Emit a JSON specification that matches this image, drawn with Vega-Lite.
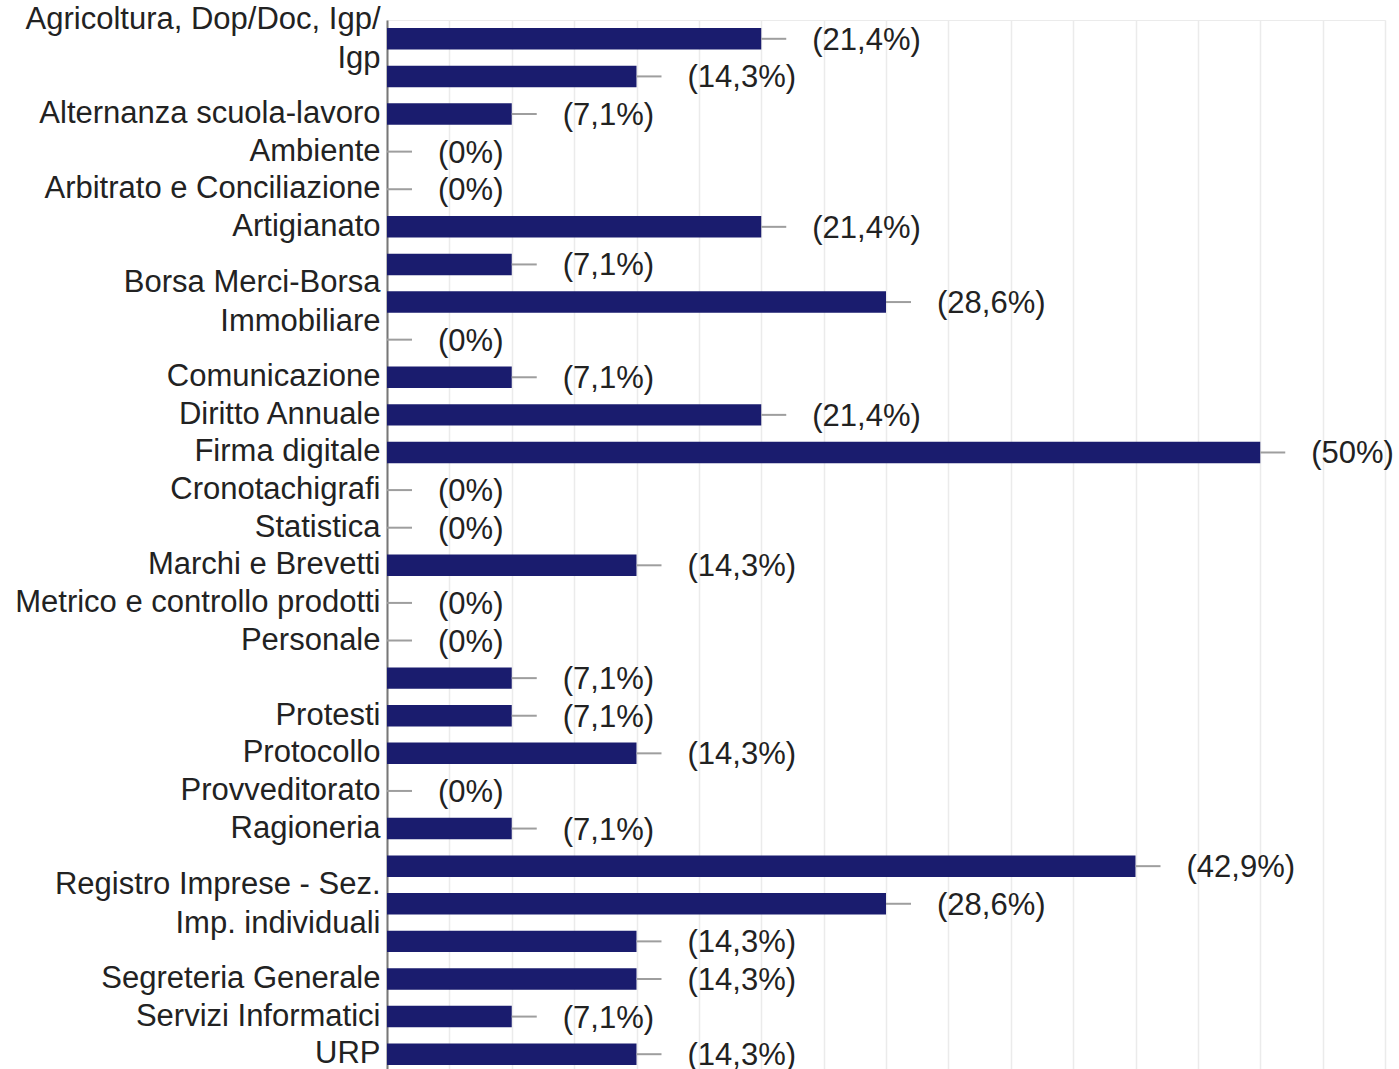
{
  "$schema": "https://vega.github.io/schema/vega-lite/v6.json",
  "width": 998,
  "height": 1053,
  "autosize": "none",
  "padding": {"left": 387, "top": 20, "right": 14, "bottom": 0},
  "background": "white",
  "config": {"font": "Liberation Sans", "view": {"stroke": "#ebebeb"}},
  "data": {
    "values": [
      {"cat": "Agricoltura, Dop/Doc, Igp/|Igp", "n": 3, "lbl": "(21,4%)"},
      {"cat": "~a", "n": 2, "lbl": "(14,3%)"},
      {"cat": "Alternanza scuola-lavoro", "n": 1, "lbl": "(7,1%)"},
      {"cat": "Ambiente", "n": 0, "lbl": "(0%)"},
      {"cat": "Arbitrato e Conciliazione", "n": 0, "lbl": "(0%)"},
      {"cat": "Artigianato", "n": 3, "lbl": "(21,4%)"},
      {"cat": "~b", "n": 1, "lbl": "(7,1%)"},
      {"cat": "Borsa Merci-Borsa|Immobiliare", "n": 4, "lbl": "(28,6%)"},
      {"cat": "~c", "n": 0, "lbl": "(0%)"},
      {"cat": "Comunicazione", "n": 1, "lbl": "(7,1%)"},
      {"cat": "Diritto Annuale", "n": 3, "lbl": "(21,4%)"},
      {"cat": "Firma digitale", "n": 7, "lbl": "(50%)"},
      {"cat": "Cronotachigrafi", "n": 0, "lbl": "(0%)"},
      {"cat": "Statistica", "n": 0, "lbl": "(0%)"},
      {"cat": "Marchi e Brevetti", "n": 2, "lbl": "(14,3%)"},
      {"cat": "Metrico e controllo prodotti", "n": 0, "lbl": "(0%)"},
      {"cat": "Personale", "n": 0, "lbl": "(0%)"},
      {"cat": "~d", "n": 1, "lbl": "(7,1%)"},
      {"cat": "Protesti", "n": 1, "lbl": "(7,1%)"},
      {"cat": "Protocollo", "n": 2, "lbl": "(14,3%)"},
      {"cat": "Provveditorato", "n": 0, "lbl": "(0%)"},
      {"cat": "Ragioneria", "n": 1, "lbl": "(7,1%)"},
      {"cat": "~e", "n": 6, "lbl": "(42,9%)"},
      {"cat": "Registro Imprese - Sez.|Imp. individuali", "n": 4, "lbl": "(28,6%)"},
      {"cat": "~f", "n": 2, "lbl": "(14,3%)"},
      {"cat": "Segreteria Generale", "n": 2, "lbl": "(14,3%)"},
      {"cat": "Servizi Informatici", "n": 1, "lbl": "(7,1%)"},
      {"cat": "URP", "n": 2, "lbl": "(14,3%)"}
    ]
  },
  "encoding": {
    "y": {
      "field": "cat",
      "type": "nominal",
      "sort": null,
      "scale": {"paddingInner": 0.43, "paddingOuter": 0.215},
      "axis": {
        "title": null,
        "ticks": false,
        "grid": false,
        "labelPadding": 7,
        "labelFontSize": 31,
        "labelColor": "#222222",
        "labelLimit": 400,
        "labelOverlap": false,
        "labelLineHeight": 39,
        "labelOffset": {"condition": {"test": "indexof(datum.value, '|') >= 0", "value": -19}, "value": 0},
        "domainColor": "#777777",
        "domainWidth": 2,
        "labelExpr": "indexof(datum.value, '~') == 0 ? '' : split(datum.value, '|')"
      }
    },
    "x": {
      "field": "n",
      "type": "quantitative",
      "scale": {"domain": [0, 8], "nice": false},
      "axis": {
        "values": [0, 0.5, 1, 1.5, 2, 2.5, 3, 3.5, 4, 4.5, 5, 5.5, 6, 6.5, 7, 7.5, 8],
        "labels": false,
        "ticks": false,
        "domain": false,
        "title": null,
        "grid": true,
        "gridColor": "#ebebeb",
        "gridWidth": 1.5
      }
    }
  },
  "layer": [
    {"mark": {"type": "bar", "color": "#1a1c6e"}},
    {
      "mark": {"type": "rule", "x2Offset": 25, "color": "#9e9e9e", "strokeWidth": 2},
      "encoding": {"x2": {"field": "n"}}
    },
    {
      "mark": {"type": "text", "align": "left", "baseline": "middle", "dx": 51, "dy": 2, "fontSize": 31, "color": "#222222"},
      "encoding": {"text": {"field": "lbl"}}
    }
  ]
}
